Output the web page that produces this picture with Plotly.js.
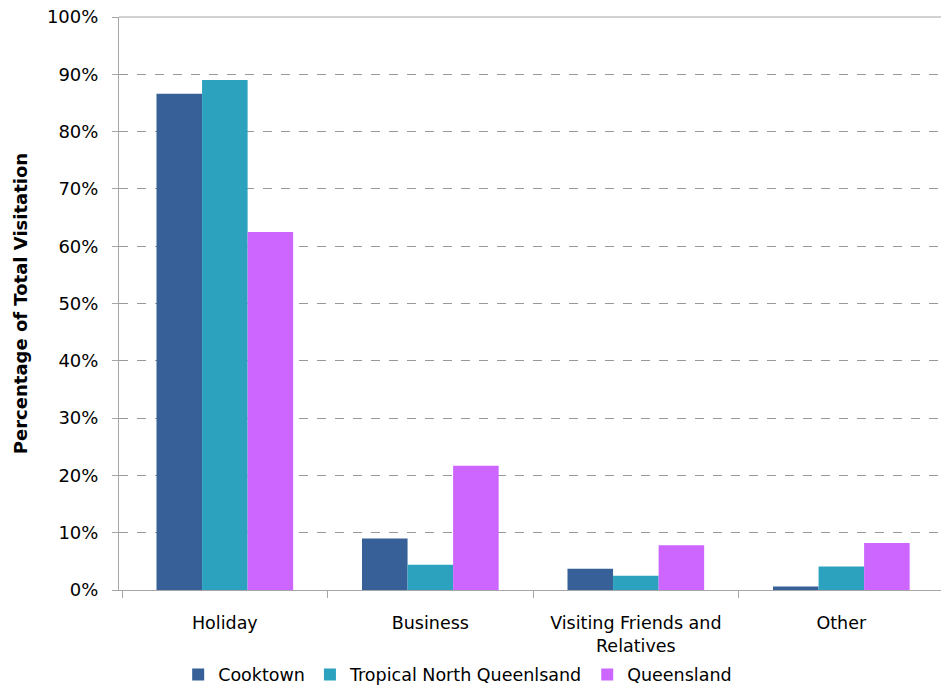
<!DOCTYPE html>
<html>
<head>
<meta charset="utf-8">
<script src="https://cdn.plot.ly/plotly-3.0.1.min.js"></script>
<style>html,body{margin:0;padding:0;background:#fff;}#chart{width:941px;height:687px;}</style>
</head>
<body>
<div id="chart"></div>
<script>
var categories = ["Holiday", "Business", "Visiting Friends and<br>Relatives", "Other"];
var cooktown = [0.866, 0.090, 0.037, 0.006];
var tropicalNorthQld = [0.890, 0.044, 0.025, 0.041];
var queensland = [0.625, 0.217, 0.078, 0.082];
var seriesNames = ["Cooktown", "Tropical North Queenlsand", "Queensland"];
var seriesColors = ["#376099", "#2CA2BF", "#CC66FF"];
var tickVals = [0, 0.1, 0.2, 0.3, 0.4, 0.5, 0.6, 0.7, 0.8, 0.9, 1.0];
var tickText = ["0%", "10%", "20%", "30%", "40%", "50%", "60%", "70%", "80%", "90%", "100%"];

var font = "DejaVu Sans, Verdana, sans-serif";
var data = [cooktown, tropicalNorthQld, queensland].map(function (vals, i) {
  return {
    type: "bar",
    x: categories,
    y: vals,
    name: seriesNames[i],
    marker: {color: seriesColors[i], line: {width: 0}},
    hoverinfo: "none"
  };
});

var layout = {
  width: 941, height: 687,
  margin: {l: 119, r: 0, t: 17, b: 97, autoexpand: false},
  paper_bgcolor: "#fff", plot_bgcolor: "#fff",
  barmode: "group",
  bargap: 0.335,
  bargroupgap: 0,
  font: {family: font, color: "#000"},
  xaxis: {
    range: [-0.515, 3.485],
    showline: true, linecolor: "#a6a6a6", linewidth: 1,
    ticks: "outside", tickson: "boundaries", ticklen: 7, tickcolor: "#a6a6a6",
    tickfont: {size: 17.5, family: font},
    ticklabelstandoff: 17,
    showgrid: false, zeroline: false, fixedrange: true, automargin: false
  },
  yaxis: {
    range: [0, 1.0],
    tickvals: tickVals, ticktext: tickText,
    tickfont: {size: 18, family: font},
    ticklabelstandoff: 10,
    showline: true, linecolor: "#a6a6a6", linewidth: 1,
    ticks: "outside", ticklen: 6, tickcolor: "#a6a6a6",
    showgrid: true, gridcolor: "#999999", griddash: "dash", gridwidth: 1,
    zeroline: false,
    title: {text: "<b>Percentage of Total Visitation</b>", font: {size: 18, family: font}, standoff: 14},
    fixedrange: true, automargin: false
  },
  legend: {
    orientation: "h",
    x: 0.072, xanchor: "left",
    yref: "container",
    y: 0.018, yanchor: "middle",
    font: {size: 17.5, family: font},
    itemclick: false, itemdoubleclick: false
  },
  shapes: [{
    type: "line", xref: "paper", yref: "paper", x0: 0, x1: 1, y0: 1, y1: 1,
    line: {color: "#a6a6a6", width: 1}
  }]
};

Plotly.newPlot("chart", data, layout, {displayModeBar: false, staticPlot: true});
</script>
</body>
</html>
